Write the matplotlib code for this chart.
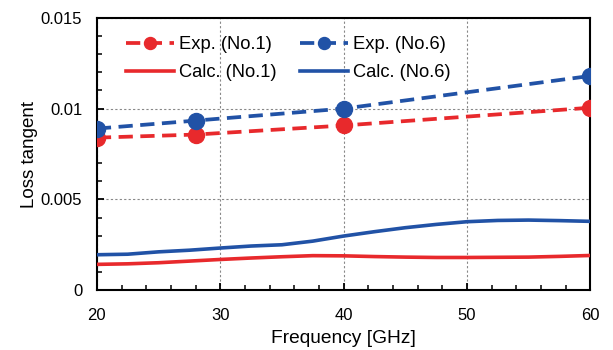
import matplotlib
matplotlib.use("Agg")
import matplotlib.pyplot as plt
from matplotlib.ticker import MultipleLocator

plt.rcParams["font.family"] = ["Liberation Sans", "DejaVu Sans"]

# -----------------------------
# Data
# -----------------------------
exp_freq = [20, 28, 40, 60]
exp_no1 = [0.0084, 0.00857, 0.00907, 0.01005]
exp_no6 = [0.0089, 0.00934, 0.0100, 0.0118]

calc_freq = [20, 22.5, 25, 27.5, 30, 32.5, 35, 37.5, 40, 42.5, 45, 47.5, 50, 52.5, 55, 57.5, 60]
calc_no1 = [0.00142, 0.00145, 0.00151, 0.00160, 0.00169, 0.00177, 0.00184, 0.00190, 0.00189,
            0.00185, 0.00182, 0.00180, 0.00180, 0.00181, 0.00182, 0.00186, 0.00191]
calc_no6 = [0.00195, 0.00198, 0.00211, 0.00220, 0.00232, 0.00243, 0.00250, 0.00270, 0.00298,
            0.00322, 0.00344, 0.00362, 0.00377, 0.00384, 0.00386, 0.00383, 0.00379]

RED = "#e8292c"
BLUE = "#2152a6"

fig = plt.figure(figsize=(6.13, 3.5), dpi=100)
ax = fig.add_axes([0.158, 0.171, 0.805, 0.778])

h1, = ax.plot(exp_freq, exp_no1, "--o", color=RED, lw=2.7, ms=11.5, dashes=(3.8, 2.0),
              label="Exp. (No.1)", zorder=4)
h6, = ax.plot(exp_freq, exp_no6, "--o", color=BLUE, lw=2.7, ms=11.5, dashes=(3.8, 2.0),
              label="Exp. (No.6)", zorder=4)
c1, = ax.plot(calc_freq, calc_no1, "-", color=RED, lw=2.6, label="Calc. (No.1)", zorder=3)
c6, = ax.plot(calc_freq, calc_no6, "-", color=BLUE, lw=2.6, label="Calc. (No.6)", zorder=3)

ax.set_xlim(20, 60)
ax.set_ylim(0, 0.015)
ax.set_xticks([20, 30, 40, 50, 60])
ax.set_yticks([0, 0.005, 0.01, 0.015])
ax.set_yticklabels(["0", "0.005", "0.01", "0.015"])
ax.xaxis.set_minor_locator(MultipleLocator(2))
ax.yaxis.set_minor_locator(MultipleLocator(0.001))

ax.grid(True, which="major", color="#888888", linestyle=(0, (2, 2)), linewidth=0.8)
ax.tick_params(which="both", direction="in", labelsize=12, top=False, right=False)
ax.tick_params(which="major", length=5, width=1.3)
ax.tick_params(which="minor", length=3.5, width=1.1)
ax.tick_params(axis="x", which="major", pad=13)
ax.tick_params(axis="y", which="major", pad=10.5)
for spine in ax.spines.values():
    spine.set_linewidth(1.5)
    spine.set_color("black")

ax.set_xlabel("Frequency [GHz]", fontsize=13.8, labelpad=5)
ax.set_ylabel("Loss tangent", fontsize=13.5, labelpad=2)

ax.legend(handles=[h1, c1, h6, c6], ncol=2, loc="upper left", frameon=False,
          fontsize=13.2, handlelength=2.6, handletextpad=0.27, columnspacing=1.3,
          labelspacing=0.6, markerscale=0.75, bbox_to_anchor=(0.045, 0.96),
          borderaxespad=0)

fig.savefig("out.png", dpi=100)
